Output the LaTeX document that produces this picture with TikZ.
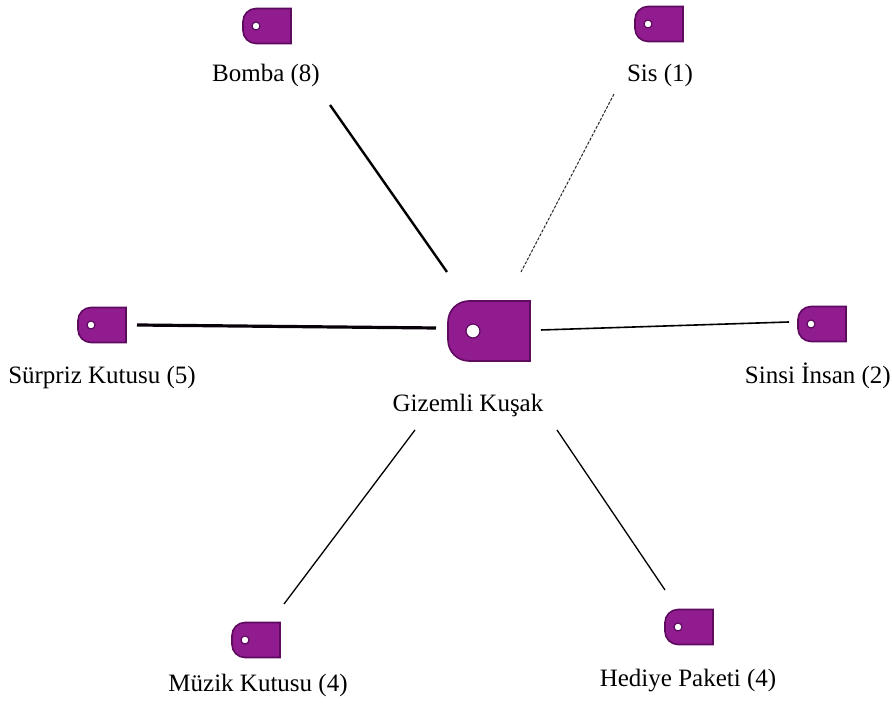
\documentclass[tikz,border=0pt]{standalone}
\usepackage{fontspec}
\setmainfont{Liberation Serif}
\definecolor{tagfill}{HTML}{901C90}
\definecolor{tagline}{HTML}{5E0A5E}
\newcommand\tagshape[4]{% name, radius, hole offset, hole radius
  \filldraw[tagst] ([xshift=#2]#1.north west) -- (#1.north east) -- (#1.south east) -- ([xshift=#2]#1.south west)
    arc[start angle=270,end angle=180,radius=#2] -- ([yshift=-#2]#1.north west)
    arc[start angle=180,end angle=90,radius=#2] -- cycle;
  \filldraw[holest] ([xshift=#3]#1.west) circle[radius=#4];
}
\begin{document}
\begin{tikzpicture}[x=1pt,y=1pt,
  tagbox/.style={inner sep=0pt,outer sep=0pt,minimum width=48pt,minimum height=35pt},
  bigtag/.style={inner sep=0pt,outer sep=0pt,minimum width=82pt,minimum height=60pt},
  tagst/.style={fill=tagfill,draw=tagline,line width=1.6pt},
  holest/.style={fill=white,draw=tagline,line width=1.2pt},
  lbl/.style={font=\fontsize{25}{30}\selectfont,inner sep=0pt,anchor=base},
  edge/.style={black,line width=1.3pt},
]
\useasboundingbox (0,0) rectangle (892,706);
% tags
\node[bigtag] (ctag) at (489,375) {};
\node[tagbox] (bomba) at (267,680) {};
\node[tagbox] (sis) at (659,682) {};
\node[tagbox] (surpriz) at (102,381) {};
\node[tagbox] (sinsi) at (822,382) {};
\node[tagbox] (muzik) at (256,66) {};
\node[tagbox] (hediye) at (689,79) {};
\tagshape{ctag}{21pt}{25pt}{7pt}
\tagshape{bomba}{13pt}{13pt}{4pt}
\tagshape{sis}{13pt}{13pt}{4pt}
\tagshape{surpriz}{13pt}{13pt}{4pt}
\tagshape{sinsi}{13pt}{13pt}{4pt}
\tagshape{muzik}{13pt}{13pt}{4pt}
\tagshape{hediye}{13pt}{13pt}{4pt}
% labels
\node[lbl] (lbomba) at (266,624) {Bomba (8)};
\node[lbl] (lsis) at (660,624) {Sis (1)};
\node[lbl] (lsurpriz) at (102,322) {Sürpriz Kutusu (5)};
\node[lbl,anchor=base east] (lsinsi) at (891,322) {Sinsi İnsan (2)};
\node[lbl] (lcenter) at (468,294) {Gizemli Kuşak};
\node[lbl] (lmuzik) at (258,14) {Müzik Kutusu (4)};
\node[lbl] (lhediye) at (688,19) {Hediye Paketi (4)};
% connector ends
\coordinate (bA) at (330,601); \coordinate (bB) at (447,434);
\coordinate (sA) at (614,612); \coordinate (sB) at (521,434);
\coordinate (kA) at (137,381); \coordinate (kB) at (436,378);
\coordinate (iA) at (789,384); \coordinate (iB) at (541,376);
\coordinate (mA) at (284,102); \coordinate (mB) at (415,276);
\coordinate (hA) at (665,116); \coordinate (hB) at (557,276);
\draw[edge,line width=2.4pt] (bA) -- (bB);
\draw[edge,line width=1pt,dash pattern=on 3pt off 1.5pt,black!85] (sA) -- (sB);
\draw[edge,line width=3.2pt,color=black!90!tagline] (kA) -- (kB);
\draw[edge,line width=1.6pt] (iA) -- (iB);
\draw[edge] (mA) -- (mB);
\draw[edge] (hA) -- (hB);
\end{tikzpicture}
\end{document}
